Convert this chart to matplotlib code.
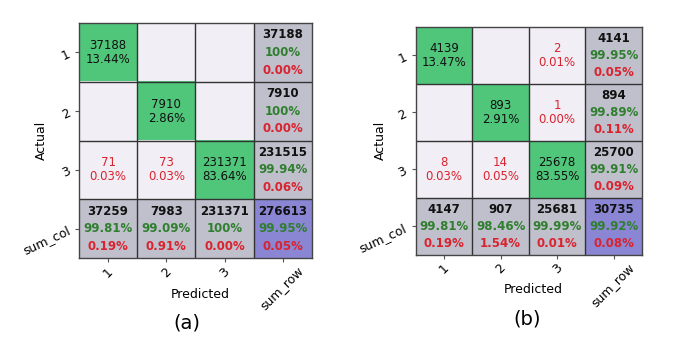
import numpy as np
import matplotlib
matplotlib.use("Agg")
import matplotlib.pyplot as plt

# confusion matrices (rows = actual, cols = predicted), 0 means empty cell
classes = ["1", "2", "3"]
cm_a = [[37188, 0, 0],
        [0, 7910, 0],
        [71, 73, 231371]]
cm_b = [[4139, 0, 2],
        [0, 893, 1],
        [8, 14, 25678]]
panel_labels = ["(a)", "(b)"]

GREEN = "#50c67a"
LIGHT = "#f2eef5"
GRAY = "#c0c0cc"
CORNER = "#8a86d4"
TXT_GREEN = "#2f7f2f"
TXT_RED = "#d9232f"
TXT_DARK = "#111111"


def fmt_pct(v):
    s = f"{v:.2f}%"
    if s == "100.00%":
        s = "100%"
    return s


def draw_cm(ax, cm):
    cm = np.array(cm)
    n = cm.shape[0]
    total = cm.sum()
    colors = np.empty((n + 1, n + 1), dtype=object)
    for i in range(n + 1):
        for j in range(n + 1):
            if i == n and j == n:
                colors[i, j] = CORNER
            elif i == n or j == n:
                colors[i, j] = GRAY
            elif i == j:
                colors[i, j] = GREEN
            else:
                colors[i, j] = LIGHT
    rgb = np.array([[matplotlib.colors.to_rgb(c) for c in row] for row in colors])
    ax.imshow(rgb, aspect="auto", extent=(-0.5, n + 0.5, n + 0.5, -0.5))

    for k in range(1, n + 1):
        ax.axhline(k - 0.5, color="#333333", lw=1.0)
        ax.axvline(k - 0.5, color="#333333", lw=1.0)

    # inner cells
    for i in range(n):
        for j in range(n):
            v = cm[i, j]
            if v == 0:
                continue
            c = TXT_DARK if i == j else TXT_RED
            ax.text(j, i, f"{v}\n{fmt_pct(100 * v / total)}", ha="center",
                    va="center", fontsize=8.5, color=c, linespacing=1.1)

    def sum_cell(x, y, cnt, ok):
        acc = 100 * ok / cnt
        ax.text(x, y - 0.3, f"{cnt}", ha="center", va="center", fontsize=8.5,
                fontweight="bold", color=TXT_DARK)
        ax.text(x, y, fmt_pct(acc), ha="center", va="center", fontsize=8.5,
                fontweight="bold", color=TXT_GREEN)
        ax.text(x, y + 0.3, f"{100 - acc:.2f}%", ha="center", va="center",
                fontsize=8.5, fontweight="bold", color=TXT_RED)

    for i in range(n):
        sum_cell(n, i, cm[i].sum(), cm[i, i])
    for j in range(n):
        sum_cell(j, n, cm[:, j].sum(), cm[j, j])
    sum_cell(n, n, total, np.trace(cm))

    ax.set_xticks(range(n + 1))
    ax.set_yticks(range(n + 1))
    ax.set_xticklabels(classes + ["sum_row"], rotation=45, fontsize=9,
                       ha="center")
    ax.set_yticklabels(classes + ["sum_col"], rotation=25, fontsize=9)
    ax.set_xlabel("Predicted", fontsize=9)
    ax.set_ylabel("Actual", fontsize=9)
    ax.tick_params(length=3, color="#555555", pad=2)
    for s in ax.spines.values():
        s.set_color("#444444")
        s.set_linewidth(1.0)


fig = plt.figure(figsize=(6.85, 3.54), dpi=100)
ax1 = fig.add_axes([0.1153, 0.271, 0.340, 0.664])
ax2 = fig.add_axes([0.607, 0.280, 0.330, 0.644])
draw_cm(ax1, cm_a)
draw_cm(ax2, cm_b)
ax1.xaxis.set_label_coords(0.519, -0.128)
ax1.yaxis.set_label_coords(-0.133, 0.5)
ax2.xaxis.set_label_coords(0.518, -0.123)
ax2.yaxis.set_label_coords(-0.128, 0.504)
fig.text(0.273, 0.087, panel_labels[0], ha="center", va="center", fontsize=14)
fig.text(0.770, 0.100, panel_labels[1], ha="center", va="center", fontsize=14)

fig.savefig("out.png", dpi=100)
